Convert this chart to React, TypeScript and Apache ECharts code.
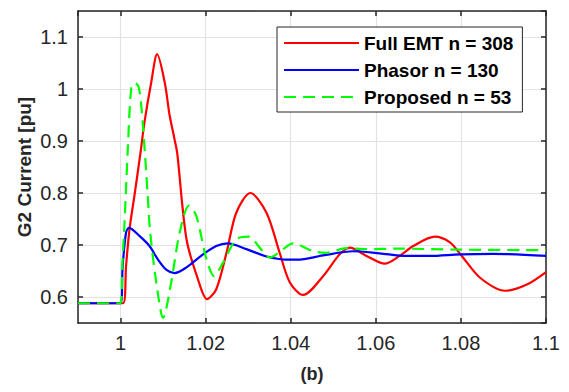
import React, { useEffect, useRef } from "react";
import * as echarts from "echarts";

const seriesNames = ["Full EMT n = 308", "Phasor n = 130", "Proposed n = 53"];

const fullEmtT = [0.99, 1.0006, 1.0013, 1.0021, 1.0033, 1.0047, 1.0056, 1.0072, 1.0086, 1.0104, 1.0115, 1.0127, 1.0133, 1.0155, 1.0182, 1.0203, 1.0225, 1.0249, 1.0272, 1.0305, 1.0343, 1.0374, 1.0398, 1.0429, 1.0476, 1.0515, 1.0539, 1.0578, 1.0621, 1.0656, 1.0688, 1.0739, 1.0774, 1.0802, 1.0845, 1.0904, 1.0955, 1.1];
const fullEmtI = [0.588, 0.588, 0.66, 0.73, 0.797, 0.878, 0.935, 1.012, 1.067, 1.012, 0.951, 0.903, 0.878, 0.711, 0.634, 0.596, 0.615, 0.685, 0.762, 0.8, 0.762, 0.685, 0.628, 0.604, 0.64, 0.682, 0.695, 0.679, 0.664, 0.679, 0.698, 0.716, 0.705, 0.679, 0.637, 0.612, 0.624, 0.648];

const phasorT = [0.99, 1.0, 1.0005, 1.0013, 1.002, 1.0045, 1.0068, 1.0088, 1.0108, 1.0127, 1.0155, 1.0194, 1.0225, 1.0252, 1.0296, 1.0343, 1.039, 1.0421, 1.0476, 1.0547, 1.0609, 1.0672, 1.0727, 1.0798, 1.0876, 1.1];
const phasorI = [0.588, 0.588, 0.66, 0.724, 0.733, 0.717, 0.698, 0.672, 0.652, 0.646, 0.657, 0.682, 0.698, 0.703, 0.692, 0.678, 0.672, 0.672, 0.68, 0.688, 0.684, 0.679, 0.679, 0.682, 0.683, 0.679];

const proposedT = [0.99, 1.0, 1.0004, 1.0009, 1.0017, 1.0025, 1.0033, 1.0043, 1.0052, 1.0064, 1.0069, 1.0084, 1.01, 1.0119, 1.0139, 1.0161, 1.0178, 1.0202, 1.022, 1.0241, 1.0272, 1.0302, 1.0327, 1.0351, 1.0382, 1.0405, 1.0453, 1.0484, 1.0531, 1.0578, 1.0649, 1.08, 1.1];
const proposedI = [0.588, 0.588, 0.66, 0.737, 0.884, 1.0, 1.012, 1.003, 0.936, 0.794, 0.73, 0.628, 0.56, 0.628, 0.724, 0.776, 0.756, 0.673, 0.64, 0.666, 0.711, 0.716, 0.695, 0.676, 0.692, 0.703, 0.688, 0.685, 0.694, 0.692, 0.693, 0.691, 0.69];

const xLabel = "(b)";
const yLabel = "G2 Current [pu]";

const pairs = (xs: number[], ys: number[]) => xs.map((x, i) => [x, ys[i]]);

const FONT = "'Liberation Sans', Arial, Helvetica, sans-serif";
const AX = "#262626";

function onStep(v: number, step: number) {
  const r = v / step;
  return Math.abs(r - Math.round(r)) < 1e-6;
}

export default function App() {
  const ref = useRef<HTMLDivElement>(null);
  useEffect(() => {
    if (!ref.current) return;
    const chart = echarts.init(ref.current, undefined, { renderer: "svg" });
    const boxAxis = {
      axisLine: { show: true, lineStyle: { color: AX, width: 1.5 } },
      axisTick: { show: true, inside: true, length: 5, lineStyle: { color: AX, width: 1.5 } },
      axisLabel: { show: false },
      splitLine: { show: false },
    };
    chart.setOption({
      animation: false,
      backgroundColor: "#ffffff",
      grid: { left: 78, top: 11, right: 23, bottom: 69, containLabel: false },
      legend: {
        show: true,
        orient: "vertical",
        left: 277,
        top: 27,
        padding: [6, 9, 5, 6],
        itemGap: 7,
        itemWidth: 75,
        itemHeight: 20,
        borderColor: AX,
        borderWidth: 1,
        backgroundColor: "#ffffff",
        itemStyle: { opacity: 0, color: "rgba(0,0,0,0)", borderWidth: 0 },
        textStyle: { fontFamily: FONT, fontSize: 19, fontWeight: "bold", color: "#000000", lineHeight: 20 },
        data: seriesNames,
      },
      xAxis: [
        {
          type: "value",
          min: 0.99,
          max: 1.1,
          splitNumber: 5,
          position: "bottom",
          name: xLabel,
          nameLocation: "middle",
          nameGap: 42,
          nameMoveOverlap: false,
          nameTextStyle: { fontFamily: FONT, fontSize: 18, fontWeight: "bold", color: AX },
          axisLine: { show: true, lineStyle: { color: AX, width: 1.5 } },
          axisTick: { show: true, inside: true, length: 5, lineStyle: { color: AX, width: 1.5 } },
          axisLabel: {
            show: true,
            margin: 10,
            fontFamily: FONT,
            fontSize: 20,
            color: AX,
            showMinLabel: false,
            formatter: (v: number) => (onStep(v, 0.02) ? String(parseFloat(v.toFixed(4))) : ""),
          },
          splitLine: { show: true, lineStyle: { color: "#e3e3e3", width: 1.2 } },
        },
        { type: "value", min: 0.99, max: 1.1, splitNumber: 5, position: "top", ...boxAxis },
      ],
      yAxis: [
        {
          type: "value",
          min: 0.55,
          max: 1.15,
          splitNumber: 5,
          position: "left",
          name: yLabel,
          nameLocation: "middle",
          nameRotate: 90,
          nameGap: 44,
          nameMoveOverlap: false,
          nameTextStyle: { fontFamily: FONT, fontSize: 19, fontWeight: "bold", color: AX },
          axisLine: { show: true, lineStyle: { color: AX, width: 1.5 } },
          axisTick: { show: true, inside: true, length: 5, lineStyle: { color: AX, width: 1.5 } },
          axisLabel: {
            show: true,
            margin: 10,
            fontFamily: FONT,
            fontSize: 20,
            color: AX,
            showMinLabel: false,
            showMaxLabel: false,
            formatter: (v: number) => (onStep(v, 0.1) ? String(parseFloat(v.toFixed(3))) : ""),
          },
          splitLine: { show: true, lineStyle: { color: "#e3e3e3", width: 1.2 } },
        },
        { type: "value", min: 0.55, max: 1.15, splitNumber: 5, position: "right", ...boxAxis },
      ],
      series: [
        {
          name: seriesNames[0],
          type: "line",
          data: pairs(fullEmtT, fullEmtI),
          symbol: "none",
          smooth: 0.3,
          color: "#ff0000",
          lineStyle: { color: "#ff0000", width: 2.2 },
          z: 3,
        },
        {
          name: seriesNames[1],
          type: "line",
          data: pairs(phasorT, phasorI),
          symbol: "none",
          smooth: 0.3,
          color: "#0000ff",
          lineStyle: { color: "#0000ff", width: 2.2 },
          z: 4,
        },
        {
          name: seriesNames[2],
          type: "line",
          data: pairs(proposedT, proposedI),
          symbol: "none",
          smooth: 0.3,
          color: "#00ff00",
          lineStyle: { color: "#00ff00", width: 2.2, type: [12, 7] },
          z: 5,
        },
      ],
    });
    return () => chart.dispose();
  }, []);
  return (
    <div
      ref={ref}
      style={{ position: "fixed", left: 0, top: 0, width: 569, height: 392, background: "#fff" }}
    />
  );
}
